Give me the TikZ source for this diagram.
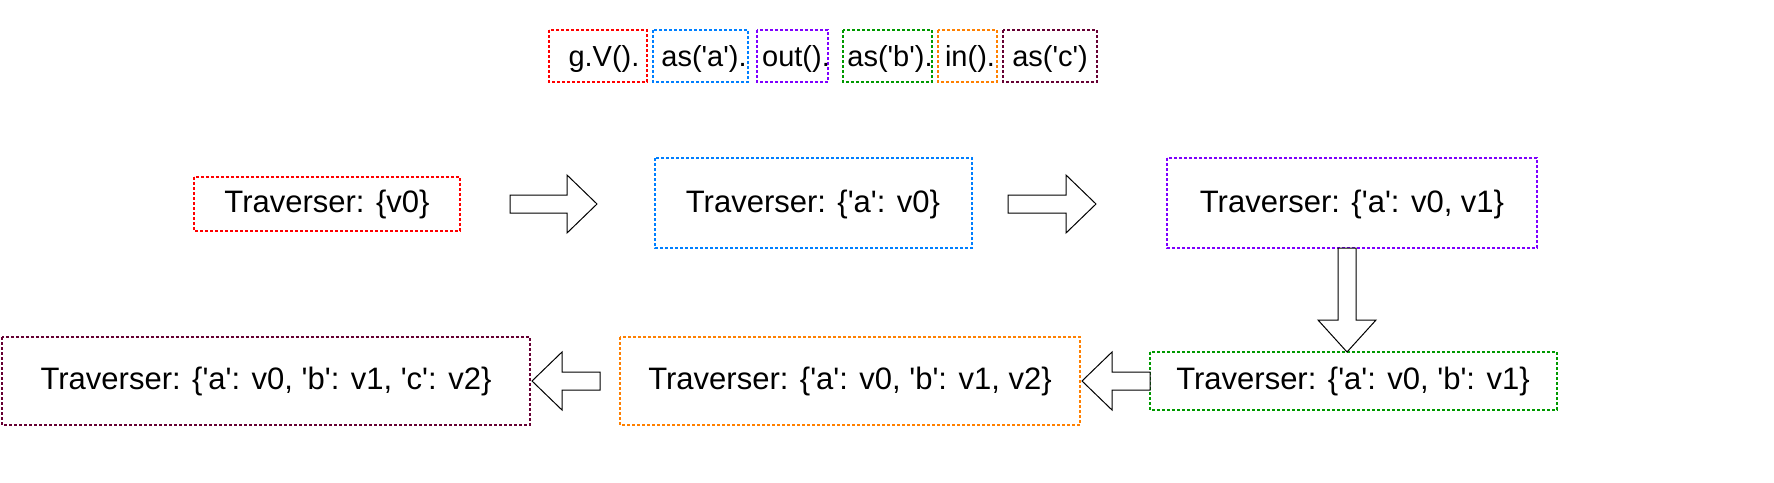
\documentclass[tikz,border=0pt]{standalone}
\usepackage{fontspec}
\setmainfont{Liberation Sans}[Ligatures=TeXOff]
\begin{document}
\begin{tikzpicture}[x=1pt,y=-1pt,
  bx/.style={draw=#1,dash pattern=on 3pt off 2pt,line width=1.2pt,inner sep=0pt},
  tr/.style={font=\fontsize{31}{36}\selectfont},
  tp/.style={font=\fontsize{29}{34}\selectfont,inner sep=0pt,anchor=base},
  arr/.style={draw=black,line width=1pt,fill=white}]
\useasboundingbox (0,0) rectangle (1774,482);
\definecolor{cblue}{RGB}{0,127,255}
\definecolor{cpurp}{RGB}{127,0,255}
\definecolor{cgreen}{RGB}{0,153,0}
\definecolor{corange}{RGB}{255,128,0}
\definecolor{cmaroon}{RGB}{102,0,51}
% top code
\draw[bx=red] (549,30) rectangle (647,82);
\draw[bx=cblue] (653,30) rectangle (748,82);
\draw[bx=cpurp] (757,30) rectangle (828,82);
\draw[bx=cgreen] (843,30) rectangle (932,82);
\draw[bx=corange] (938,30) rectangle (997,82);
\draw[bx=cmaroon] (1003,30) rectangle (1097,82);
\node[tp] (c1) at (604,66) {g.V().};
\node[tp] (c2) at (704,66) {as('a').};
\node[tp] (c3) at (796,66) {out().};
\node[tp] (c4) at (890,66) {as('b').};
\node[tp] (c5) at (970,66) {in().};
\node[tp] (c6) at (1050,66) {as('c')};
% boxes
\draw[bx=red] (194,177) rectangle (460,231);
\node[tr] (t1) at (327,204) {Traverser: \{v0\}};
\draw[bx=cblue] (655,158) rectangle (972,248);
\node[tr] (t2) at (813,204) {Traverser: \{'a': v0\}};
\draw[bx=cpurp] (1167,158) rectangle (1537,248);
\node[tr] (t3) at (1352,204) {Traverser: \{'a': v0, v1\}};
\draw[bx=cgreen] (1150,352) rectangle (1557,410);
\node[tr] (t4) at (1353,381) {Traverser: \{'a': v0, 'b': v1\}};
\draw[bx=corange] (620,337) rectangle (1080,425);
\node[tr] (t5) at (850,381) {Traverser: \{'a': v0, 'b': v1, v2\}};
\draw[bx=cmaroon] (2,337) rectangle (530,425);
\node[tr] (t6) at (266,381) {Traverser: \{'a': v0, 'b': v1, 'c': v2\}};
% arrows
\draw[arr] (510,195)--(567,195)--(567,175)--(597,204)--(567,233)--(567,213)--(510,213)--cycle;
\draw[arr] (1008,195)--(1066,195)--(1066,175)--(1096,204)--(1066,233)--(1066,213)--(1008,213)--cycle;
\draw[arr] (1338,248)--(1356,248)--(1356,320)--(1376,320)--(1347,352)--(1318,320)--(1338,320)--cycle;
\draw[arr] (1150,372)--(1112,372)--(1112,352)--(1082,381)--(1112,410)--(1112,390)--(1150,390)--cycle;
\draw[arr] (600,372)--(562,372)--(562,352)--(532,381)--(562,410)--(562,390)--(600,390)--cycle;
\end{tikzpicture}
\end{document}
